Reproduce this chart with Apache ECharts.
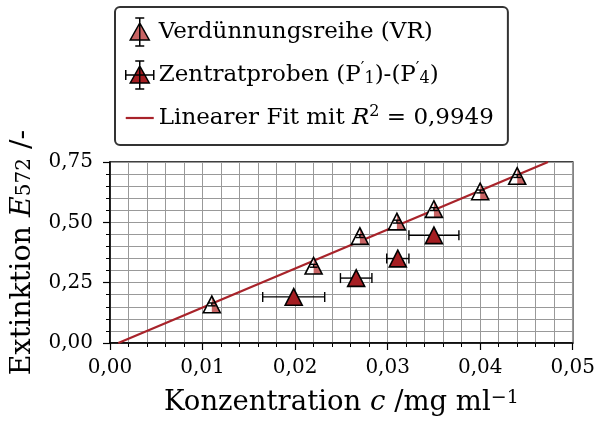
<!DOCTYPE html>
<html><head><meta charset="utf-8">
<script src="https://cdn.jsdelivr.net/npm/echarts@6/dist/echarts.min.js"></script>
<style>html,body{margin:0;padding:0;background:#fff}#c{width:598px;height:424px}</style>
</head><body><div id="c"></div>
<script>
// ---- data ----
const vrX = [0.011, 0.022, 0.027, 0.031, 0.035, 0.040, 0.044];
const vrY = [0.160, 0.320, 0.443, 0.503, 0.555, 0.628, 0.692];
const vrYErr = [0.006, 0.006, 0.006, 0.006, 0.006, 0.006, 0.006];
const zX = [0.01985, 0.0266, 0.0311, 0.0350];
const zY = [0.191, 0.269, 0.350, 0.446];
const zXErr = [0.00335, 0.0017, 0.0012, 0.0027];
const fitX = [0.0009, 0.04733];
const fitY = [0.0, 0.75];
const xTicks = ['0,00','0,01','0,02','0,03','0,04','0,05'];
const yTicks = ['0,00','0,25','0,50','0,75'];

const FONT = 'DejaVu Serif';
const PINK = '#c86464', DARK = '#a51e22', FITC = '#a8232a';
const HS = 8.5, HH = 8.3; // triangle half width/height (px)

function tri(c, fill, stroke){
  return {type:'polygon', shape:{points:[[c[0], c[1]-HH],[c[0]-HS, c[1]+HH],[c[0]+HS, c[1]+HH]]},
    style:{fill:fill, stroke:stroke||null, lineWidth:1.6, lineJoin:'miter'}};
}

function renderVR(params, api){
  const x = api.value(0), y = api.value(1), e = api.value(2);
  const c = api.coord([x, y]);
  const t = api.coord([x, y + e]), b = api.coord([x, y - e]);
  const cap = 4;
  return {type:'group', children:[
    tri(c, '#fff', null),
    {type:'polygon', shape:{points:[[c[0], c[1]-HH],[c[0], c[1]+HH],[c[0]+HS, c[1]+HH]]}, style:{fill:PINK}},
    tri(c, 'none', '#000'),
    {type:'line', shape:{x1:c[0], y1:t[1], x2:c[0], y2:b[1]}, style:{stroke:'#000', lineWidth:1.4}},
    {type:'line', shape:{x1:c[0]-cap, y1:t[1], x2:c[0]+cap, y2:t[1]}, style:{stroke:'#000', lineWidth:1.4}},
    {type:'line', shape:{x1:c[0]-cap, y1:b[1], x2:c[0]+cap, y2:b[1]}, style:{stroke:'#000', lineWidth:1.4}}
  ]};
}

function renderZ(params, api){
  const x = api.value(0), y = api.value(1), e = api.value(2);
  const c = api.coord([x, y]);
  const l = api.coord([x - e, y]), r = api.coord([x + e, y]);
  const cap = 5;
  return {type:'group', children:[
    {type:'line', shape:{x1:l[0], y1:c[1], x2:r[0], y2:c[1]}, style:{stroke:'#000', lineWidth:1.4}},
    {type:'line', shape:{x1:l[0], y1:c[1]-cap, x2:l[0], y2:c[1]+cap}, style:{stroke:'#000', lineWidth:1.4}},
    {type:'line', shape:{x1:r[0], y1:c[1]-cap, x2:r[0], y2:c[1]+cap}, style:{stroke:'#000', lineWidth:1.4}},
    tri(c, DARK, '#000')
  ]};
}

const vrData = vrX.map((x,i)=>[x, vrY[i], vrYErr[i]]);
const zData = zX.map((x,i)=>[x, zY[i], zXErr[i]]);
const fitData = fitX.map((x,i)=>[x, fitY[i]]);

function rich(fs, ss){
  return {
    n:{fontFamily:FONT, fontSize:fs, color:'#000', lineHeight:30},
    i:{fontFamily:FONT, fontSize:fs, fontStyle:'italic', color:'#000', lineHeight:30},
    s:{fontFamily:FONT, fontSize:ss, color:'#000', verticalAlign:'bottom', lineHeight:ss, padding:[0,0,3,0]},
    p:{fontFamily:FONT, fontSize:ss, color:'#000', verticalAlign:'top', lineHeight:ss, padding:[1,0,0,0]}
  };
}

const NAMES = ['Verdünnungsreihe (VR)', 'Zentratproben (P′₁)-(P′₄)', 'Linearer Fit mit R² = 0,9949'];

const chart = echarts.init(document.getElementById('c'), null, {renderer:'canvas'});
chart.setOption({
  animation:false,
  backgroundColor:'#fff',
  grid:{left:110, right:25, top:162, bottom:81, show:true, borderColor:'#000', borderWidth:1.5, backgroundColor:'transparent'},
  legend:{
    orient:'vertical', left:115, top:7, padding:[10,14,12,10], itemGap:13, itemWidth:28, itemHeight:28, itemTextGap:11,
    backgroundColor:'#fff', borderColor:'#333', borderWidth:2, borderRadius:5,
    textStyle:{fontFamily:FONT, fontSize:23, color:'#000', lineHeight:30, rich:rich(23,16)},
    formatter:function(name){
      if(name===NAMES[0]) return '{n|Verdünnungsreihe (VR)}';
      if(name===NAMES[1]) return '{n|Zentratproben (P}{p|′}{s|1}{n|)-(P}{p|′}{s|4}{n|)}';
      return '{n|Linearer Fit mit }{i|R}{p|2}{n| = 0,9949}';
    },
    data:[
      {name:NAMES[0], icon:'path://M9.5,0 L9.5,28 M5,0 L14,0 M5,28 L14,28 M9.5,5 L0,22 L19,22 Z',
        itemStyle:{color:PINK, borderColor:'#000', borderWidth:1.5}},
      {name:NAMES[1], icon:'path://M14,0 L14,28 M9.5,0 L18.5,0 M9.5,28 L18.5,28 M0,14 L28,14 M0,9 L0,19 M28,9 L28,19 M14,5 L4.5,22 L23.5,22 Z',
        itemStyle:{color:DARK, borderColor:'#000', borderWidth:1.5}},
      {name:NAMES[2], icon:'path://M0,0 L28,0 L28,2.2 L0,2.2 Z', itemStyle:{color:FITC, borderWidth:0}}
    ]
  },
  xAxis:{
    type:'value', min:0, max:0.05, interval:0.01,
    name:'{n|Konzentration }{i|c}{n| /mg ml}{p|−1}', nameLocation:'middle', nameGap:45,
    nameTextStyle:{rich:rich(27.5,19)},
    axisLine:{show:true, lineStyle:{color:'#000', width:1.5}},
    axisTick:{show:true, length:7, lineStyle:{color:'#000', width:1.2}},
    minorTick:{show:true, splitNumber:5, length:4, lineStyle:{color:'#000', width:1}},
    axisLabel:{fontFamily:FONT, fontSize:20, color:'#000', margin:15, formatter:(v)=>xTicks[Math.round(v/0.01)]},
    splitLine:{show:true, lineStyle:{color:'#999', width:1}},
    minorSplitLine:{show:true, lineStyle:{color:'#999', width:1}}
  },
  yAxis:{
    type:'value', min:0, max:0.75, interval:0.25,
    name:'{n|Extinktion }{i|E}{s|572}{n| /-}', nameLocation:'middle', nameGap:66, nameRotate:90,
    nameTextStyle:{rich:rich(28.5,20)},
    axisLine:{show:true, lineStyle:{color:'#000', width:1.5}},
    axisTick:{show:true, length:7, lineStyle:{color:'#000', width:1.2}},
    minorTick:{show:true, splitNumber:5, length:4, lineStyle:{color:'#000', width:1}},
    axisLabel:{fontFamily:FONT, fontSize:20, color:'#000', margin:17, formatter:(v)=>yTicks[Math.round(v/0.25)]},
    splitLine:{show:true, lineStyle:{color:'#999', width:1}},
    minorSplitLine:{show:true, lineStyle:{color:'#999', width:1}}
  },
  series:[
    {name:NAMES[2], type:'line', data:fitData, symbol:'none', clip:true, z:3,
      lineStyle:{color:FITC, width:2.2}, itemStyle:{color:FITC}},
    {name:NAMES[0], type:'custom', renderItem:renderVR, data:vrData, clip:true, z:4,
      itemStyle:{color:PINK}, encode:{x:0, y:1}},
    {name:NAMES[1], type:'custom', renderItem:renderZ, data:zData, clip:true, z:4,
      itemStyle:{color:DARK}, encode:{x:0, y:1}}
  ]
});
</script>
</body></html>
